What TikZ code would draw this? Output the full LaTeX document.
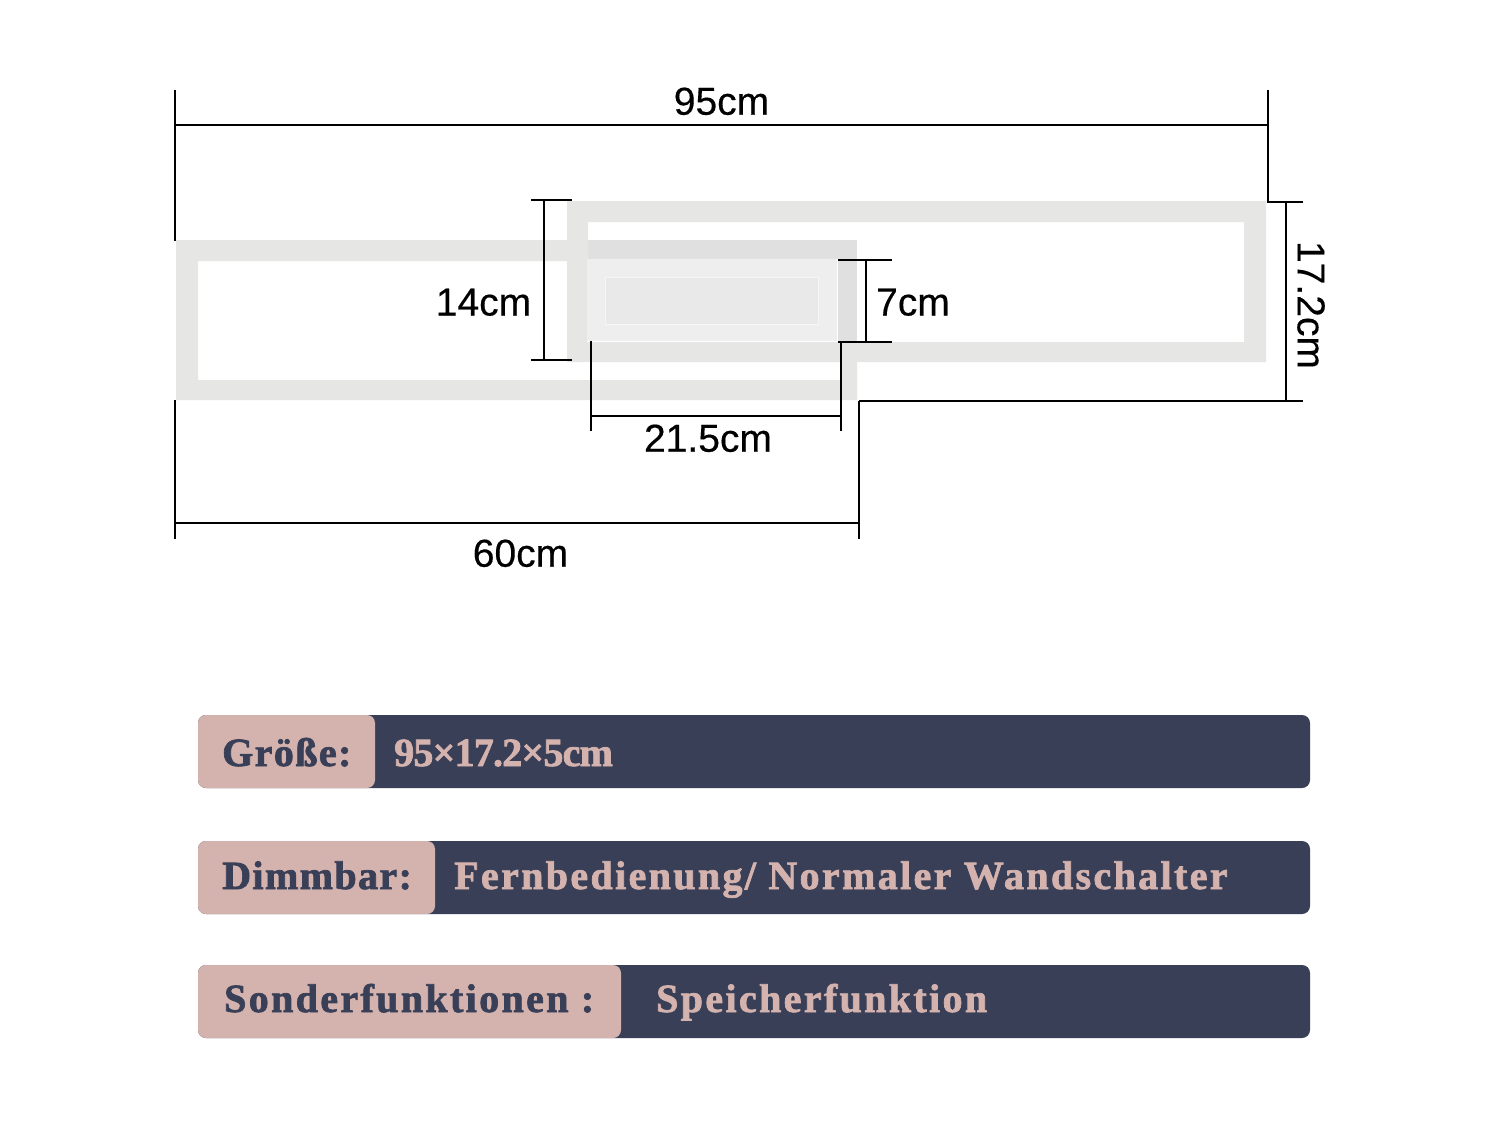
\documentclass[tikz,border=0pt]{standalone}
\usepackage{fontspec}
\setmainfont{Liberation Sans}
\newfontfamily\dimf[FakeBold=0.35]{Liberation Sans}
\newfontfamily\fat[FakeBold=1.8,LetterSpace=5.9]{Liberation Serif Bold}
\newfontfamily\fatmid[FakeBold=1.8,LetterSpace=3.5]{Liberation Serif Bold}
\newfontfamily\fattight[FakeBold=1.8,LetterSpace=-2]{Liberation Serif Bold}
\definecolor{frameg}{HTML}{E6E6E5}
\definecolor{bandg}{HTML}{E0E0E0}
\definecolor{panelg}{HTML}{EEEEEE}
\definecolor{paneli}{HTML}{E9E9E9}
\definecolor{navy}{HTML}{3A3F58}
\definecolor{rose}{HTML}{D4B3AE}
\tikzset{
  x=1pt,y=-1pt,
  dimline/.style={draw=black,line width=1.3pt},
  dimtext/.style={font=\dimf\fontsize{39}{39}\selectfont,inner sep=0pt,text=black},
  keytext/.style={anchor=base west,inner sep=0pt,text=navy,font=\fat\fontsize{40}{40}\selectfont},
  valtext/.style={anchor=base west,inner sep=0pt,text=rose,font=\fat\fontsize{40}{40}\selectfont},
  darkbar/.style={fill=navy,rounded corners=8pt},
  keybar/.style={fill=rose,rounded corners=8pt},
}
\begin{document}
\begin{tikzpicture}
\useasboundingbox (0,0) rectangle (1500,1125);
\fill[white] (0,0) rectangle (1500,1125);
% left frame
\fill[frameg,even odd rule] (176,240) rectangle (857,400) (198,261) rectangle (840,380);
% right frame
\fill[white] (567,201) rectangle (1266,362);
\fill[frameg,even odd rule] (567,201) rectangle (1266,362) (588,222) rectangle (1244,342);
% middle section
\fill[bandg] (588,240) rectangle (857,260);
\fill[bandg] (837,259) rectangle (857,342);
\fill[panelg] (587,259) rectangle (837,341);
\draw[white,line width=1pt] (587,341) -- (837,341) -- (837,259);
\fill[paneli,draw=white!60!paneli] (605,277) rectangle (818,324);
% dimension lines
\draw[dimline] (175,90) -- (175,241);
\draw[dimline] (1268,90) -- (1268,202);
\draw[dimline] (175,125) -- (1268,125);
\draw[dimline] (1267,202) -- (1303,202);
\draw[dimline] (1286,202) -- (1286,401);
\draw[dimline] (859,401) -- (1303,401);
\draw[dimline] (859,401) -- (859,539);
\draw[dimline] (175,400) -- (175,539);
\draw[dimline] (175,523) -- (859,523);
\draw[dimline] (531,200) -- (572,200);
\draw[dimline] (531,360) -- (572,360);
\draw[dimline] (544,200) -- (544,360);
\draw[dimline] (838,260) -- (892,260);
\draw[dimline] (838,342) -- (892,342);
\draw[dimline] (866,260) -- (866,342);
\draw[dimline] (591,341) -- (591,431);
\draw[dimline] (841,342) -- (841,431);
\draw[dimline] (591,416) -- (841,416);
% dimension labels
\node[dimtext] (d95) at (721.5,101.3) {95cm};
\node[dimtext,rotate=-90] (d172) at (1311,305) {17.2cm};
\node[dimtext] (d14) at (483.5,302.3) {14cm};
\node[dimtext] (d7) at (913,302.3) {7cm};
\node[dimtext] (d215) at (708,438.3) {21.5cm};
\node[dimtext] (d60) at (520.5,553.3) {60cm};
% bars
\fill[darkbar] (198,715) rectangle (1310,788);
\fill[keybar] (198,715) rectangle (375,788);
\fill[darkbar] (198,841) rectangle (1310,914);
\fill[keybar] (198,841) rectangle (435,914);
\fill[darkbar] (198,965) rectangle (1310,1038);
\fill[keybar] (198,965) rectangle (621,1038);
\node[keytext,font=\fatmid\fontsize{40}{40}\selectfont] (k1) at (222,766) {Größe:};
\node[valtext,font=\fattight\fontsize{40}{40}\selectfont] (v1) at (394,766) {95×17.2×5cm};
\node[keytext,font=\fatmid\fontsize{40}{40}\selectfont] (k2) at (222,889) {Dimmbar:};
\node[valtext] (v2) at (454,889) {Fernbedienung/ Normaler Wandschalter};
\node[keytext] (k3) at (224,1012) {Sonderfunktionen :};
\node[valtext] (v3) at (656,1012) {Speicherfunktion};
\end{tikzpicture}
\end{document}
